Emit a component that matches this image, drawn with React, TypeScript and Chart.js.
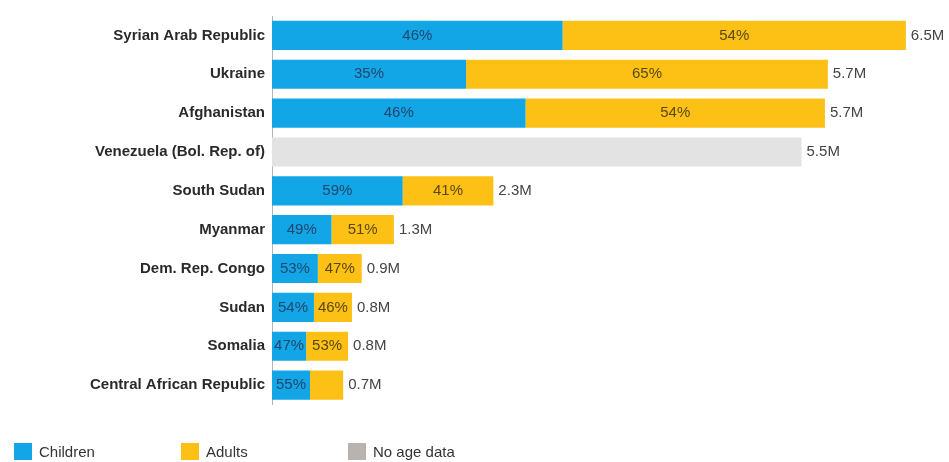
import React, { useEffect, useRef } from "react";
import { Chart, registerables } from "chart.js";

Chart.register(...registerables);

const countries = [
  "Syrian Arab Republic",
  "Ukraine",
  "Afghanistan",
  "Venezuela (Bol. Rep. of)",
  "South Sudan",
  "Myanmar",
  "Dem. Rep. Congo",
  "Sudan",
  "Somalia",
  "Central African Republic",
];
// millions
const children = [2.98, 1.99, 2.6, 0, 1.34, 0.61, 0.47, 0.43, 0.35, 0.39];
const adults = [3.52, 3.71, 3.07, 0, 0.93, 0.64, 0.45, 0.39, 0.43, 0.34];
const noAgeData = [0, 0, 0, 5.43, 0, 0, 0, 0, 0, 0];
const childrenPct = ["46%", "35%", "46%", "", "59%", "49%", "53%", "54%", "47%", "55%"];
const adultsPct = ["54%", "65%", "54%", "", "41%", "51%", "47%", "46%", "53%", ""];
const totalLabels = ["6.5M", "5.7M", "5.7M", "5.5M", "2.3M", "1.3M", "0.9M", "0.8M", "0.8M", "0.7M"];
const legendNames = ["Children", "Adults", "No age data"];

const BLUE = "#12a6e6";
const YELLOW = "#fdc015";
const GREY = "#e3e3e3";
const LEGEND_GREY = "#b9b3b0";
const FONT = "Arial, 'Liberation Sans', sans-serif";

if (typeof document !== "undefined") {
  document.body.style.margin = "0";
}

export default function App() {
  const ref = useRef<HTMLCanvasElement | null>(null);

  useEffect(() => {
    if (!ref.current) return;
    const labelPlugin = {
      id: "labels",
      afterDatasetsDraw(chart: any) {
        const ctx = chart.ctx;
        ctx.save();
        ctx.font = `15px ${FONT}`;
        ctx.textBaseline = "middle";
        const pctSets = [childrenPct, adultsPct];
        const pctColors = ["#22476e", "#5a4718"];
        [0, 1].forEach((di) => {
          const meta = chart.getDatasetMeta(di);
          meta.data.forEach((bar: any, i: number) => {
            const txt = pctSets[di][i];
            if (!txt) return;
            const { x, base, y } = bar.getProps(["x", "base", "y"], true);
            ctx.fillStyle = pctColors[di];
            ctx.textAlign = "center";
            ctx.fillText(txt, (x + base) / 2, y);
          });
        });
        // totals
        const n = countries.length;
        for (let i = 0; i < n; i++) {
          let maxX = chart.chartArea.left;
          let yy = 0;
          for (let di = 0; di < 3; di++) {
            const bar: any = chart.getDatasetMeta(di).data[i];
            const { x, y } = bar.getProps(["x", "y"], true);
            if (x > maxX) maxX = x;
            yy = y;
          }
          ctx.fillStyle = "#444";
          ctx.textAlign = "left";
          ctx.fillText(totalLabels[i], maxX + 5, yy);
        }
        // legend
        const colors = [BLUE, YELLOW, LEGEND_GREY];
        const xs = [14, 181, 348];
        ctx.font = `15px ${FONT}`;
        legendNames.forEach((name, k) => {
          ctx.fillStyle = colors[k];
          ctx.fillRect(xs[k], 443, 18, 17);
          ctx.fillStyle = "#333";
          ctx.textAlign = "left";
          ctx.fillText(name, xs[k] + 25, 452.5);
        });
        ctx.restore();
      },
    };

    const chart = new Chart(ref.current, {
      type: "bar",
      data: {
        labels: countries,
        datasets: [
          { label: legendNames[0], data: children, backgroundColor: BLUE },
          { label: legendNames[1], data: adults, backgroundColor: YELLOW },
          { label: legendNames[2], data: noAgeData, backgroundColor: GREY },
        ],
      },
      options: {
        indexAxis: "y",
        animation: false,
        responsive: false,
        maintainAspectRatio: false,
        layout: { padding: { top: 12.5, bottom: 57.5, left: 0, right: 9 } },
        datasets: {
          bar: { categoryPercentage: 0.75, barPercentage: 1, borderWidth: 0 },
        } as any,
        plugins: {
          legend: { display: false },
          tooltip: { enabled: false },
        },
        scales: {
          x: {
            stacked: true,
            display: false,
            min: 0,
            max: 6.85,
          },
          y: {
            stacked: true,
            grid: { display: false, drawTicks: false },
            border: { display: true, color: "#b5b5b5", width: 1 },
            ticks: {
              padding: 7,
              color: "#2a2a2a",
              font: { family: FONT, size: 15, weight: "bold" },
            },
            afterFit(scale: any) {
              scale.width = 272;
            },
          },
        },
      },
      plugins: [labelPlugin],
    });
    return () => chart.destroy();
  }, []);

  return (
    <div style={{ width: 949, height: 462 }}>
      <canvas ref={ref} width={949} height={462} style={{ display: "block" }} />
    </div>
  );
}
